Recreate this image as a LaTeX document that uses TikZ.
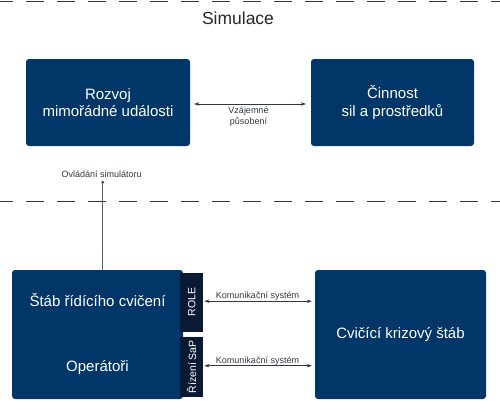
\documentclass[tikz,border=0pt]{standalone}
\usepackage{fontspec}
\setmainfont{Liberation Sans}
\usetikzlibrary{arrows.meta}
\definecolor{boxblue}{RGB}{0,55,104}
\definecolor{tabnavy}{RGB}{10,26,52}
\definecolor{linegray}{RGB}{50,55,65}
\begin{document}
\begin{tikzpicture}[x=1pt,y=-1pt,
  bigbox/.style={draw=none,fill=boxblue,rounded corners=3pt,text=white,align=center,
    font=\fontsize{15}{17.3}\selectfont,inner sep=0pt},
  boxtext/.style={text=white,align=center,font=\fontsize{15}{17.3}\selectfont,inner sep=0pt},
  tabbox/.style={draw=none,fill=tabnavy,text=white,inner sep=0pt,
    minimum height=23pt,rotate=90,font=\fontsize{10.5}{12}\selectfont},
  sepline/.style={draw=linegray,line width=1pt,dash pattern=on 18pt off 13pt,dash phase=5pt},
  conn/.style={draw=linegray,line width=0.6pt,{Stealth[length=5pt,width=3.5pt]}-{Stealth[length=5pt,width=3.5pt]}},
  small/.style={font=\fontsize{9}{11}\selectfont,text=linegray,align=center,inner sep=0pt}]
\useasboundingbox (0,0) rectangle (500,400);
% separators
\coordinate (s1a) at (0,1); \coordinate (s1b) at (500,1);
\coordinate (s2a) at (0,201); \coordinate (s2b) at (500,201);
\draw[sepline] (s1a) -- (s1b);
\draw[sepline] (s2a) -- (s2b);
% title
\node[font=\fontsize{17.5}{20}\selectfont,text=black!85,inner sep=0pt] (title) at (238,18) {Simulace};
% top boxes
\node[bigbox,minimum width=164pt,minimum height=87pt] (rozvoj) at (108,102.5) {Rozvoj\\mimořádné události};
\node[bigbox,minimum width=163pt,minimum height=87pt] (cinnost) at (392.5,102.5) {Činnost\\sil a prostředků};
\draw[conn] ([xshift=4pt,yshift=-1.5pt]rozvoj.east) -- ([xshift=-5pt,yshift=-1.5pt]cinnost.west);
\node[small] (vzaj) at (248.5,117) {Vzájemné\\působení};
% bottom boxes
\node[bigbox,minimum width=171pt,minimum height=129pt] (stab) at (97.5,334.5) {};
\node[boxtext] (stabtxt) at (97.5,300) {Štáb řídícího cvičení};
\node[boxtext] (oper) at (97.5,368) {Operátoři};
\node[bigbox,minimum width=171pt,minimum height=129pt] (cks) at (400.5,334.5) {Cvičící krizový štáb};
% tabs
\node[tabbox,minimum width=59pt] (role) at (191.7,302.2) {ROLE};
\node[tabbox,minimum width=60pt] (rizeni) at (191.7,366.7) {Řízení SaP};
% communication arrows
\draw[conn] ([xshift=1pt,yshift=1pt]role.south) -- ([xshift=-3pt,yshift=1pt]role.south -| cks.west);
\draw[conn] ([xshift=1pt,yshift=1pt]rizeni.south) -- ([xshift=-3pt,yshift=1pt]rizeni.south -| cks.west);
\node[small] (kom1) at (257.5,296) {Komunikační systém};
\node[small] (kom2) at (257.5,361) {Komunikační systém};
% simulator control
\node[small] (ovl) at (101.7,174) {Ovládání simulátoru};
\coordinate (dot) at (102.7,182.3);
\fill[linegray] (dot) circle (1.6pt);
\draw[draw=linegray!80,line width=0.8pt] (dot) -- (dot |- stab.north);
\end{tikzpicture}
\end{document}
